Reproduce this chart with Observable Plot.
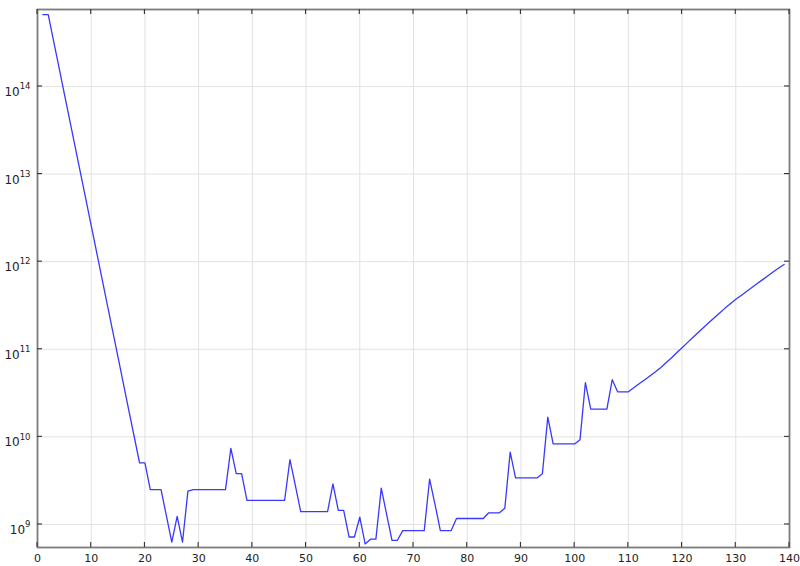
<!DOCTYPE html>
<html><head><meta charset="utf-8">
<script src="https://cdn.jsdelivr.net/npm/d3@7"></script>
<script src="https://cdn.jsdelivr.net/npm/@observablehq/plot@0.6"></script>
<style>body{margin:0;background:#fff} #chart svg{display:block}</style>
</head><body><div id="chart"></div>
<script>
// Series values, one per iteration (iteration = position + 1)
const values = [
  // 1-10
  6.6e14, 6.6e14, 3.3e14, 1.65e14, 8.25e13, 4.13e13, 2.06e13, 1.03e13, 5.16e12, 2.58e12,
  // 11-20
  1.29e12, 6.45e11, 3.22e11, 1.61e11, 8.06e10, 4.03e10, 2.01e10, 1.01e10, 5.04e9, 5.04e9,
  // 21-30
  2.5e9, 2.5e9, 2.5e9, 1.25e9, 6.3e8, 1.24e9, 6.3e8, 2.4e9, 2.5e9, 2.5e9,
  // 31-40
  2.5e9, 2.5e9, 2.5e9, 2.5e9, 2.5e9, 7.4e9, 3.8e9, 3.8e9, 1.88e9, 1.88e9,
  // 41-50
  1.88e9, 1.88e9, 1.88e9, 1.88e9, 1.88e9, 1.88e9, 5.5e9, 2.8e9, 1.4e9, 1.4e9,
  // 51-60
  1.4e9, 1.4e9, 1.4e9, 1.4e9, 2.9e9, 1.45e9, 1.45e9, 7.2e8, 7.2e8, 1.21e9,
  // 61-70
  6.0e8, 6.8e8, 6.8e8, 2.6e9, 1.3e9, 6.6e8, 6.6e8, 8.5e8, 8.5e8, 8.5e8,
  // 71-80
  8.5e8, 8.5e8, 3.3e9, 1.7e9, 8.5e8, 8.5e8, 8.5e8, 1.17e9, 1.17e9, 1.17e9,
  // 81-90
  1.17e9, 1.17e9, 1.17e9, 1.36e9, 1.36e9, 1.36e9, 1.53e9, 6.7e9, 3.4e9, 3.4e9,
  // 91-100
  3.4e9, 3.4e9, 3.4e9, 3.8e9, 1.68e10, 8.3e9, 8.3e9, 8.3e9, 8.3e9, 8.3e9,
  // 101-110
  9.3e9, 4.15e10, 2.07e10, 2.07e10, 2.07e10, 2.07e10, 4.5e10, 3.27e10, 3.27e10, 3.27e10,
  // 111-120
  3.63e10, 4.03e10, 4.47e10, 4.95e10, 5.50e10, 6.17e10, 7.00e10, 7.94e10, 9.12e10, 1.04e11,
  // 121-130
  1.19e11, 1.36e11, 1.55e11, 1.77e11, 2.02e11, 2.29e11, 2.60e11, 2.95e11, 3.31e11, 3.72e11,
  // 131-139
  4.12e11, 4.57e11, 5.07e11, 5.62e11, 6.24e11, 6.92e11, 7.67e11, 8.45e11, 9.29e11
];
const iterations = values.map((_, i) => i + 1);
const xTicks = [0, 10, 20, 30, 40, 50, 60, 70, 80, 90, 100, 110, 120, 130, 140];
const yTicks = [1e9, 1e10, 1e11, 1e12, 1e13, 1e14];
const yExponents = ["9", "10", "11", "12", "13", "14"];

const data = iterations.map((x, i) => ({x, y: values[i]}));

const chart = Plot.plot({
  width: 800, height: 566,
  marginLeft: 37, marginRight: 11, marginTop: 9, marginBottom: 19,
  style: {fontFamily: "'DejaVu Sans', sans-serif", fontSize: "11px", color: "#222", background: "#fff"},
  x: {domain: [0, 140]},
  y: {type: "log", domain: [5.46e8, 7.56e14]},
  marks: [
    Plot.gridX(xTicks.slice(1, -1), {stroke: "#e2e2e2", strokeOpacity: 1}),
    Plot.gridY(yTicks, {stroke: "#e2e2e2", strokeOpacity: 1}),
    Plot.axisX(xTicks, {tickSize: 0, tickPadding: 7, label: null}),
    Plot.axisY(yTicks, {tickSize: 0, tickPadding: 7, label: null, fontSize: 12,
      tickFormat: d => yExponents[yTicks.indexOf(d)]}),
    Plot.line(data, {x: "x", y: "y", stroke: "#3838ff", strokeWidth: 1.3}),
    Plot.frame({stroke: "#7c7c7c", strokeWidth: 1.8})
  ]
});

const svg = d3.select(chart);
// superscript exponents: 10^n
svg.selectAll('g[aria-label="y-axis tick label"] text').each(function () {
  const t = d3.select(this);
  const e = t.text();
  t.text("10").attr("dy", "0.48em").attr("font-size", "12px");
  t.append("tspan").attr("dy", "-0.8em").attr("font-size", "8.5px").text(e);
});

// inward ticks on all four sides
const sx = chart.scale("x"), sy = chart.scale("y");
const [frameLeft, frameRight] = sx.range;
const [frameBottom, frameTop] = sy.range;
const g = svg.append("g").attr("stroke", "#333").attr("stroke-width", 1.1);
xTicks.forEach(v => {
  const px = sx.apply(v);
  g.append("line").attr("x1", px).attr("x2", px).attr("y1", frameTop).attr("y2", frameTop + 5);
  g.append("line").attr("x1", px).attr("x2", px).attr("y1", frameBottom).attr("y2", frameBottom - 5);
});
yTicks.forEach(v => {
  const py = sy.apply(v);
  g.append("line").attr("y1", py).attr("y2", py).attr("x1", frameLeft).attr("x2", frameLeft + 5);
  g.append("line").attr("y1", py).attr("y2", py).attr("x1", frameRight).attr("x2", frameRight - 5);
});

document.getElementById("chart").appendChild(chart);
</script>
</body></html>
